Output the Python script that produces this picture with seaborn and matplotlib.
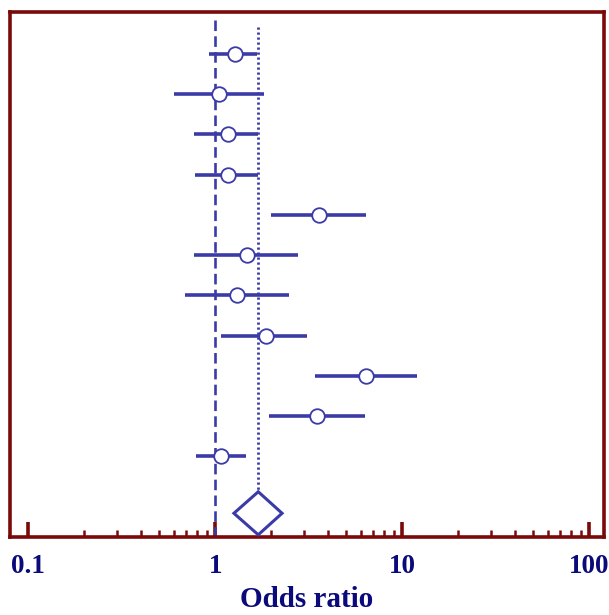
import numpy as np
import pandas as pd
import matplotlib
matplotlib.use("Agg")
import matplotlib.pyplot as plt
import seaborn as sns
from matplotlib.patches import Polygon
from matplotlib.ticker import NullFormatter, FixedLocator, FixedFormatter

# ---- data ----
study = ["S1", "S2", "S3", "S4", "S5", "S6", "S7", "S8", "S9", "S10", "S11"]
odds_ratio = [1.27, 1.05, 1.17, 1.17, 3.58, 1.48, 1.31, 1.86, 6.42, 3.50, 1.07]
ci_low = [0.93, 0.60, 0.77, 0.785, 1.98, 0.775, 0.69, 1.08, 3.40, 1.94, 0.79]
ci_high = [1.68, 1.82, 1.69, 1.69, 6.42, 2.77, 2.47, 3.10, 12.0, 6.29, 1.46]
pooled = 1.70
pooled_low = 1.26
pooled_high = 2.28
tick_values = [0.1, 1, 10, 100]
tick_labels = ["0.1", "1", "10", "100"]

df = pd.DataFrame({"study": study, "or": odds_ratio, "lo": ci_low, "hi": ci_high})
df["row"] = np.arange(len(df))

sns.set_theme(style="white")
plt.rcParams["font.family"] = ["Liberation Serif", "DejaVu Serif"]

W, H = 609, 615
fig = plt.figure(figsize=(W / 100, H / 100), dpi=100)
ax = fig.add_axes([10 / W, 1 - 537 / H, 594 / W, 525 / H])

blue = "#3b3ba8"
maroon = "#7a0a0a"
navy = "#0a0a7a"

ax.set_xscale("log")
ax.set_xlim(0.080, 120)
n = len(df)
ax.set_ylim(12.01, -1.045)

# reference lines
ax.vlines(1, -0.85, 12.01, color=blue, lw=1.9, linestyles=(0, (4, 2)), zorder=1)
ax.vlines(pooled, -0.67, n + 0.95, color=blue, lw=2.0, linestyles=(0, (0.8, 1.0)), zorder=1)

# CIs
ax.hlines(df["row"], df["lo"], df["hi"], color=blue, lw=2.6, zorder=2)
sns.scatterplot(data=df, x="or", y="row", ax=ax, s=110, color="white",
                edgecolor=blue, linewidth=1.3, zorder=3, legend=False)

# diamond
yd = n + 0.42
h = 0.535
diamond = Polygon([[pooled_low, yd], [pooled, yd - h], [pooled_high, yd], [pooled, yd + h]],
                  closed=True, facecolor="white", edgecolor=blue, lw=2.2, zorder=3)
ax.add_patch(diamond)

# spines
for s in ax.spines.values():
    s.set_color(maroon)
    s.set_linewidth(2.6)

ax.set_yticks([])
minor = [m * d for d in (0.1, 1, 10) for m in range(2, 10)]
ax.xaxis.set_major_locator(FixedLocator(tick_values))
ax.xaxis.set_major_formatter(FixedFormatter(tick_labels))
ax.xaxis.set_minor_locator(FixedLocator(minor))
ax.xaxis.set_minor_formatter(NullFormatter())
ax.tick_params(axis="x", which="major", direction="in", length=11, width=2.6,
               color=maroon, pad=12, labelsize=19.5, labelcolor=navy, bottom=True)
ax.tick_params(axis="x", which="minor", direction="in", length=5, width=1.8,
               color=maroon, bottom=True)
for lbl in ax.get_xticklabels():
    lbl.set_fontweight("bold")

ax.set_xlabel("Odds ratio", fontsize=21, fontweight="bold", color=navy, labelpad=5)
ax.set_ylabel("")

fig.savefig("out.png", dpi=100)
